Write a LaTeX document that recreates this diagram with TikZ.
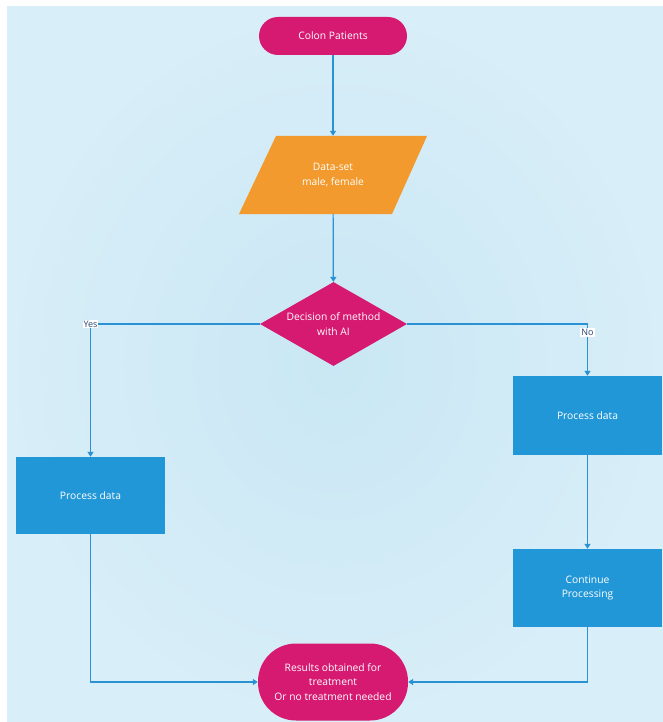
\documentclass[tikz,border=0pt]{standalone}
\usepackage{fontspec}
\setmainfont{Open Sans}
\usetikzlibrary{shapes.geometric,arrows.meta}
\definecolor{bgin}{RGB}{201,231,244}
\definecolor{bgout}{RGB}{216,238,248}
\definecolor{magenta}{RGB}{214,26,114}
\definecolor{orangef}{RGB}{242,154,45}
\definecolor{boxblue}{RGB}{34,151,215}
\definecolor{linblue}{RGB}{42,145,210}
\definecolor{lbltext}{RGB}{40,70,110}
\tikzset{
  every node/.style={font=\fontsize{10.3}{14.5}\selectfont, text=white, align=center},
  term/.style={fill=magenta, rounded corners=#1, inner sep=0pt},
  procbox/.style={fill=boxblue, minimum width=149pt, minimum height=78pt, inner sep=0pt},
  decbox/.style={diamond, fill=magenta, inner sep=0pt, shape aspect=1.72, minimum width=147pt, minimum height=84pt},
  conn/.style={draw=linblue, line width=1.2pt, -{Triangle[width=6pt,length=5pt]}},
  lbl/.style={fill=white, text=lbltext, inner sep=1pt, font=\fontsize{9}{10}\selectfont}
}
\begin{document}
\begin{tikzpicture}[x=1pt,y=-1pt]
\useasboundingbox (0,0) rectangle (663,722);
\fill[white] (0,0) rectangle (663,722);
\shade[inner color=bgin, outer color=bgout] (7,7) rectangle (663,722);

\node[term=19pt, minimum width=148pt, minimum height=38pt] (colon) at (333,36) {Colon Patients};

\fill[orangef] (276,136) -- (427,136) -- (392,214) -- (239,214) -- cycle;
\node[minimum width=150pt, minimum height=78pt, inner sep=0pt] (data) at (333,175) {Data-set\\male, female};

\node[decbox] (dec) at (333.5,324) {Decision of method\\with AI};

\node[procbox, minimum height=77pt] (lbox) at (90.5,495.5) {Process data};
\node[procbox, minimum height=79pt] (rbox1) at (587.5,415.5) {Process data};
\node[procbox] (rbox2) at (587.5,588) {Continue\\Processing};

\node[term=38pt, minimum width=150pt, minimum height=77pt] (res) at (333,682) {Results obtained for\\treatment\\Or no treatment needed};

\draw[conn] (colon) -- (data);
\draw[conn] (data) -- (dec);
\draw[conn] (dec.west) -| node[lbl, pos=0.5] {Yes} (lbox.north);
\draw[conn] (dec.east) -| node[lbl, pos=0.58] {No} (rbox1.north);
\draw[conn] (rbox1) -- (rbox2);
\draw[conn] (lbox.south) |- (res.west);
\draw[conn] (rbox2.south) |- (res.east);
\end{tikzpicture}
\end{document}
